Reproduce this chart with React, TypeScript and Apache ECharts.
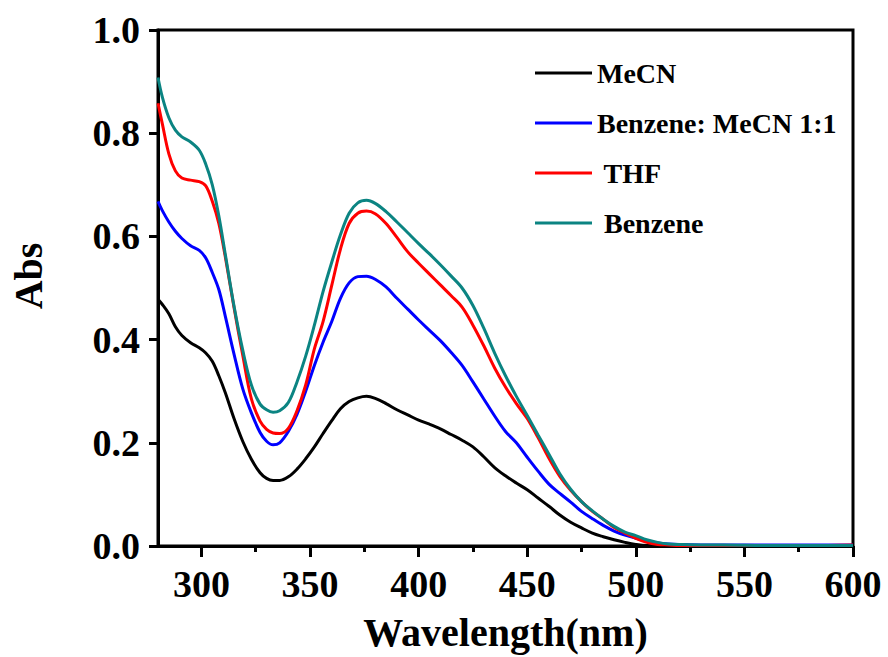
import React, { useEffect, useRef } from "react";
import * as echarts from "echarts";

const wavelengths = [280, 282, 285, 288, 291, 295, 299, 302, 305, 308, 311, 315, 319, 323, 327, 330, 333, 336, 340, 344, 348, 352, 356, 360, 364, 368, 372, 376, 380, 385, 390, 395, 400, 405, 410, 415, 420, 425, 430, 435, 440, 445, 450, 455, 460, 465, 470, 475, 480, 485, 490, 495, 500, 505, 510, 515, 520, 530, 540, 560, 580, 600];

const mecn = [0.478, 0.468, 0.45, 0.425, 0.408, 0.394, 0.384, 0.374, 0.358, 0.33, 0.297, 0.247, 0.203, 0.168, 0.142, 0.131, 0.127, 0.127, 0.134, 0.149, 0.169, 0.192, 0.218, 0.243, 0.266, 0.28, 0.287, 0.29, 0.286, 0.276, 0.264, 0.254, 0.244, 0.236, 0.227, 0.216, 0.205, 0.192, 0.173, 0.152, 0.136, 0.122, 0.109, 0.093, 0.077, 0.06, 0.046, 0.035, 0.025, 0.018, 0.012, 0.007, 0.003, 0.001, 0.001, 0.001, 0.001, 0.001, 0.001, 0.001, 0.001, 0.001];

const benzeneMecn = [0.668, 0.65, 0.628, 0.61, 0.596, 0.582, 0.573, 0.558, 0.53, 0.497, 0.445, 0.372, 0.305, 0.258, 0.22, 0.203, 0.196, 0.2, 0.222, 0.255, 0.3, 0.35, 0.395, 0.435, 0.48, 0.51, 0.522, 0.523, 0.517, 0.502, 0.48, 0.459, 0.438, 0.418, 0.398, 0.375, 0.35, 0.318, 0.285, 0.252, 0.222, 0.2, 0.172, 0.145, 0.12, 0.102, 0.085, 0.067, 0.053, 0.04, 0.029, 0.021, 0.015, 0.01, 0.006, 0.004, 0.003, 0.002, 0.002, 0.002, 0.002, 0.002];

const thf = [0.858, 0.818, 0.76, 0.727, 0.713, 0.709, 0.706, 0.698, 0.668, 0.625, 0.56, 0.462, 0.37, 0.285, 0.242, 0.226, 0.219, 0.218, 0.228, 0.262, 0.312, 0.382, 0.435, 0.505, 0.575, 0.625, 0.645, 0.649, 0.644, 0.625, 0.598, 0.57, 0.548, 0.527, 0.506, 0.485, 0.463, 0.428, 0.388, 0.345, 0.308, 0.276, 0.247, 0.21, 0.17, 0.135, 0.108, 0.086, 0.067, 0.052, 0.036, 0.025, 0.015, 0.007, 0.003, 0.002, 0.001, 0.001, 0.001, 0.001, 0.001, 0.002];

const benzene = [0.908, 0.87, 0.83, 0.806, 0.793, 0.783, 0.767, 0.74, 0.7, 0.64, 0.565, 0.465, 0.38, 0.312, 0.275, 0.264, 0.259, 0.262, 0.278, 0.318, 0.368, 0.428, 0.493, 0.55, 0.603, 0.645, 0.665, 0.67, 0.664, 0.648, 0.628, 0.607, 0.586, 0.566, 0.545, 0.523, 0.5, 0.466, 0.422, 0.374, 0.33, 0.29, 0.253, 0.215, 0.178, 0.14, 0.11, 0.086, 0.068, 0.052, 0.038, 0.027, 0.02, 0.012, 0.007, 0.004, 0.003, 0.002, 0.002, 0.001, 0.001, 0.001];

const seriesNames = ["MeCN", "Benzene: MeCN 1:1", "THF", "Benzene"];
const seriesColors = ["#000000", "#0000ff", "#ff0000", "#0b8482"];
const seriesValues = [mecn, benzeneMecn, thf, benzene];

const xTickLabels = [300, 350, 400, 450, 500, 550, 600];
const xMinorTicks = [325, 375, 425, 475, 525, 575];

const FONT = "'Liberation Serif', 'Times New Roman', serif";

export default function App() {
  const ref = useRef<HTMLDivElement>(null);
  useEffect(() => {
    if (!ref.current) return;
    const chart = echarts.init(ref.current, undefined, { renderer: "svg" });
    const series = seriesNames.map((name, i) => ({
      name,
      type: "line",
      xAxisIndex: 0,
      yAxisIndex: 0,
      showSymbol: false,
      smooth: 0.35,
      lineStyle: { color: seriesColors[i], width: 3 },
      itemStyle: { color: seriesColors[i] },
      data: wavelengths.map((w, j) => [w, seriesValues[i][j]]),
      z: 2 + i,
    }));
    chart.setOption({
      animation: false,
      backgroundColor: "#ffffff",
      grid: {
        left: 157,
        right: 35,
        top: 30,
        bottom: 108,
        show: true,
        borderColor: "#000",
        borderWidth: 3,
        backgroundColor: "transparent",
      },
      legend: {
        orient: "vertical",
        left: 535,
        top: 58,
        padding: 0,
        itemWidth: 57,
        itemHeight: 3,
        itemGap: 20,
        icon: "rect",
        data: seriesNames,
        formatter: (name: string) => (name === "THF" || name === "Benzene" ? " " + name : name),
        textStyle: {
          fontFamily: FONT,
          fontWeight: "bold",
          fontSize: 28,
          lineHeight: 30,
          color: "#000",
        },
      },
      xAxis: [
        {
          type: "value",
          min: 280,
          max: 600,
          name: "Wavelength(nm)",
          nameLocation: "middle",
          nameGap: 66,
          nameTextStyle: { fontFamily: FONT, fontWeight: "bold", fontSize: 40, color: "#000" },
          axisLine: { show: true, lineStyle: { color: "#000", width: 3 } },
          axisTick: { show: true, length: 11, lineStyle: { color: "#000", width: 3 }, customValues: xTickLabels },
          axisLabel: {
            show: true,
            customValues: xTickLabels,
            margin: 19,
            fontFamily: FONT,
            fontWeight: "bold",
            fontSize: 38,
            color: "#000",
          },
          splitLine: { show: false },
        },
        {
          type: "value",
          min: 280,
          max: 600,
          position: "bottom",
          axisLine: { show: false },
          axisTick: { show: true, length: 6, lineStyle: { color: "#000", width: 3 }, customValues: xMinorTicks },
          axisLabel: { show: false },
          splitLine: { show: false },
        },
      ],
      yAxis: {
        type: "value",
        min: 0,
        max: 1,
        interval: 0.2,
        name: "Abs",
        nameLocation: "middle",
        nameGap: 110,
        nameTextStyle: { fontFamily: FONT, fontWeight: "bold", fontSize: 40, color: "#000", padding: [0, 0, 0, 24] },
        axisLine: { show: true, lineStyle: { color: "#000", width: 3 } },
        axisTick: { show: true, length: 9, lineStyle: { color: "#000", width: 3 } },
        axisLabel: {
          margin: 18,
          fontFamily: FONT,
          fontWeight: "bold",
          fontSize: 38,
          color: "#000",
          formatter: (v: number) => v.toFixed(1),
        },
        splitLine: { show: false },
      },
      series,
    });
    return () => chart.dispose();
  }, []);
  return (
    <div
      ref={ref}
      style={{ position: "fixed", left: 0, top: 0, width: 888, height: 657, background: "#fff" }}
    />
  );
}
